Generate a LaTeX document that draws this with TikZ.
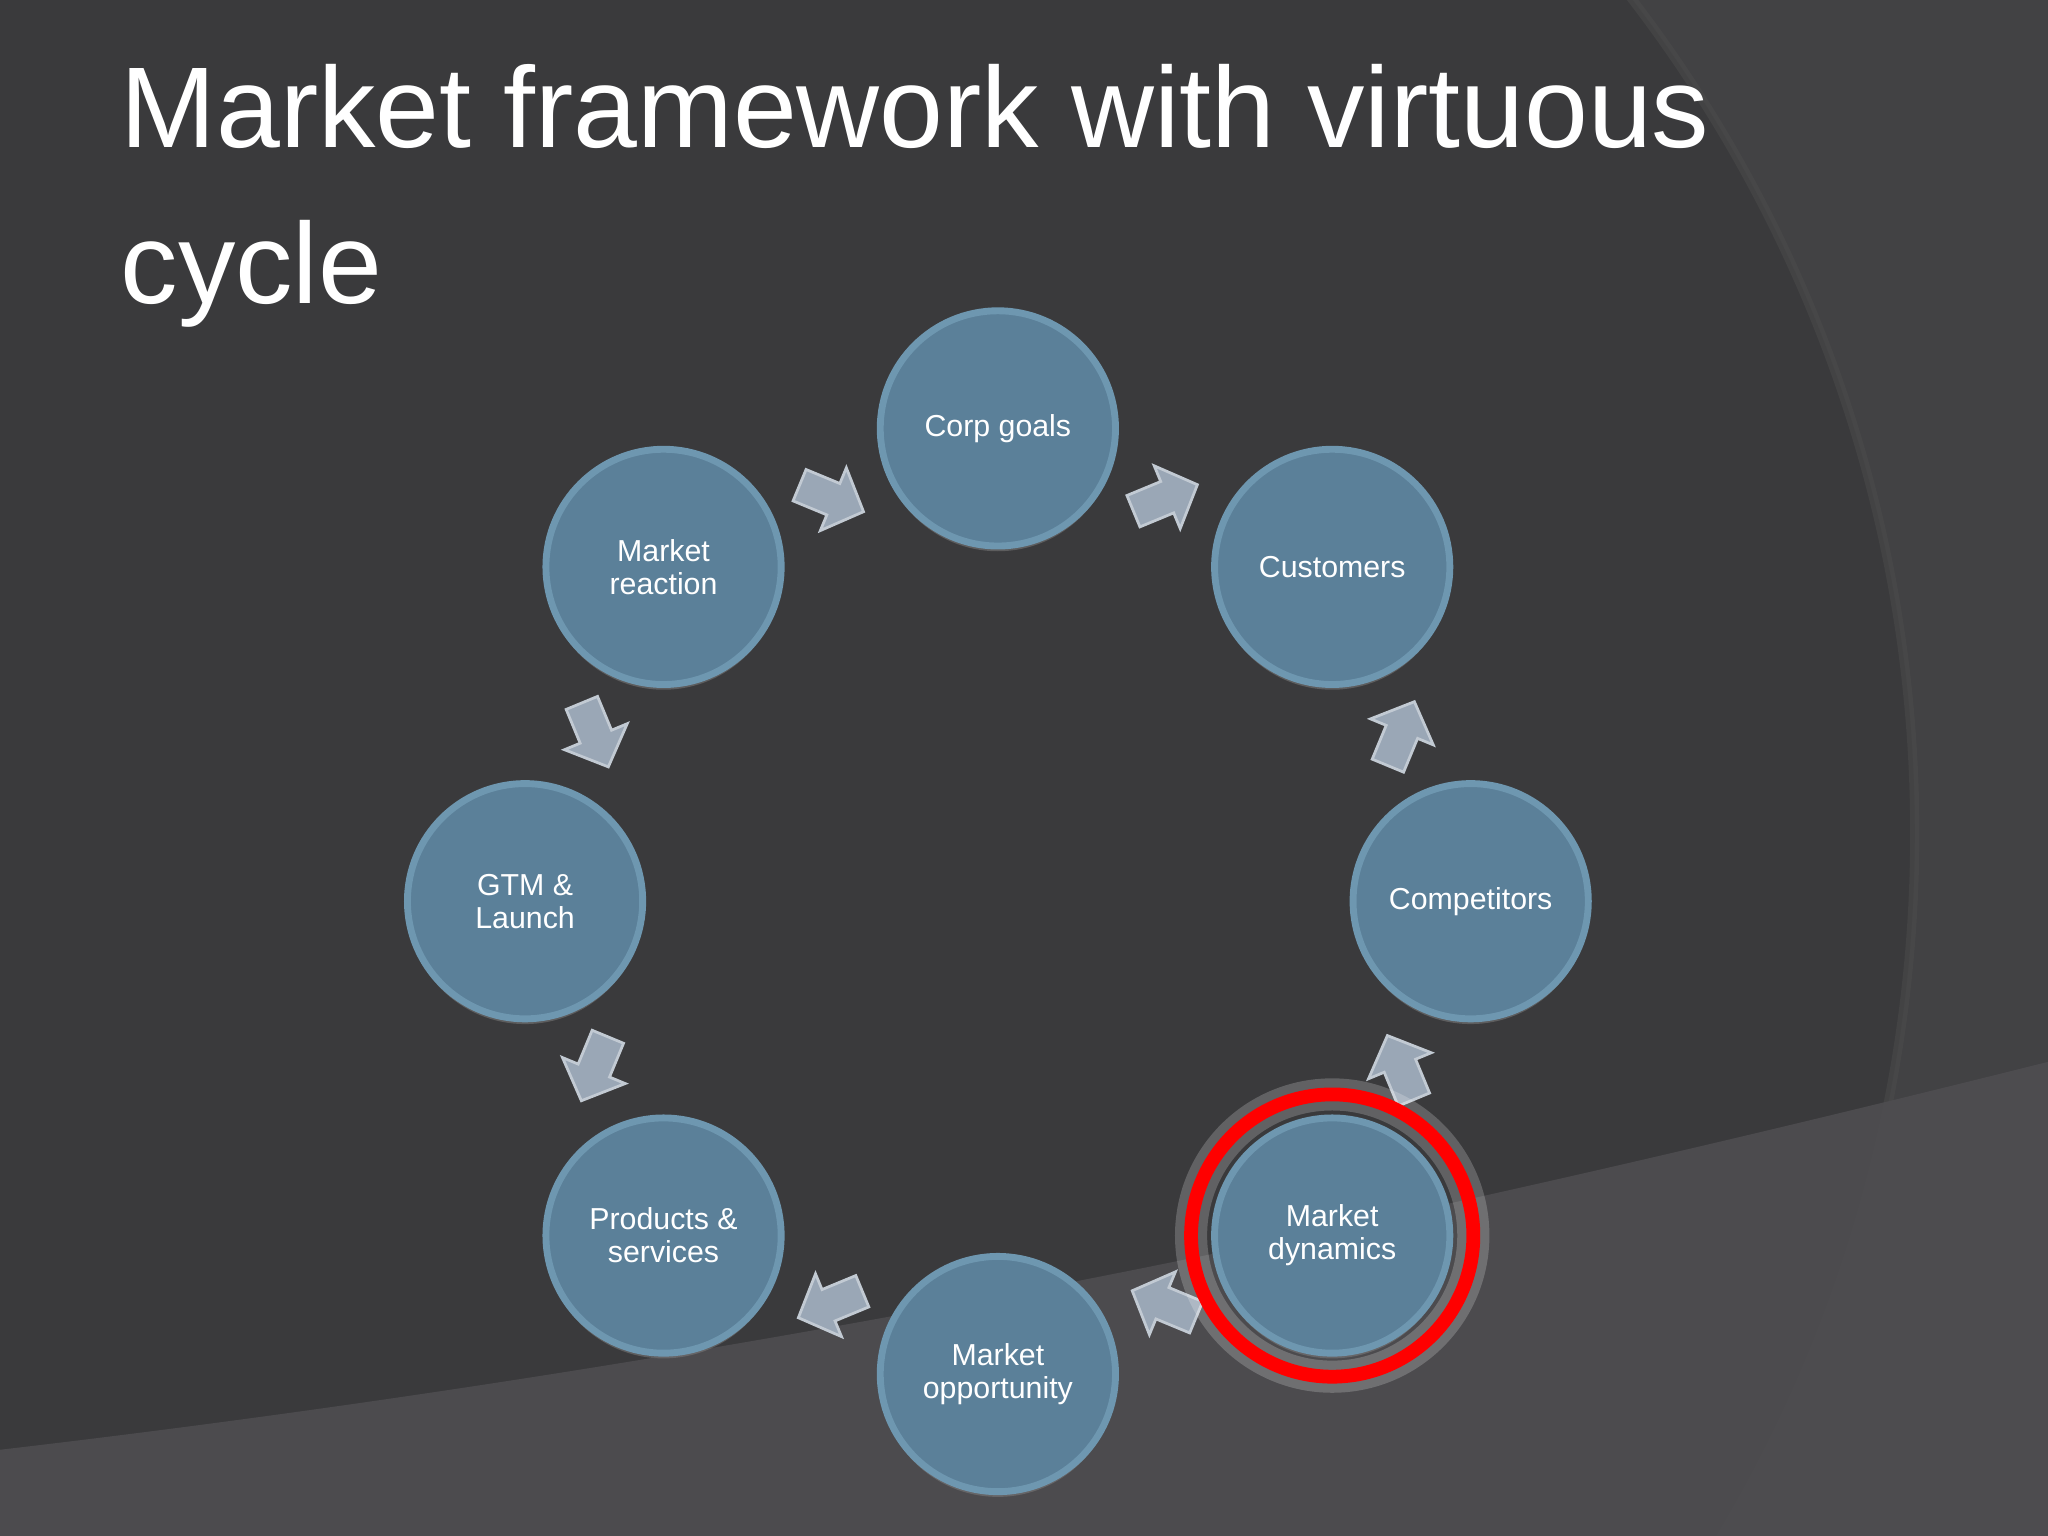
\documentclass[tikz,border=0pt]{standalone}
\usepackage{fontspec}
\setmainfont{Liberation Sans}
\usetikzlibrary{shadows}
\definecolor{bgout}{HTML}{424244}
\definecolor{bgin}{HTML}{3A3A3C}
\definecolor{band}{HTML}{4E4D50}
\definecolor{ball}{HTML}{5B8099}
\definecolor{ballrim}{HTML}{6E97B0}
\definecolor{arr}{HTML}{9AA7B6}
\tikzset{
  ballnode/.style={circle,minimum size=1.8cm,fill=ball,draw=ballrim,line width=1.5pt,
    text=white,font=\fontsize{6.6}{7.2}\selectfont,align=center,inner sep=0pt,
    drop shadow={shadow xshift=0pt,shadow yshift=-0.04cm,opacity=0.5}},
  arrshape/.style={fill=arr,draw=arr!60!white,line width=0.6pt}
}
\begin{document}
\begin{tikzpicture}[x=0.01cm,y=-0.01cm]
\useasboundingbox (0,0) rectangle (1568,1176);
\fill[bgout] (0,0) rectangle (1568,1176);
\begin{scope}
\clip (0,0) rectangle (1568,1176);
\fill[bgin] (416,638) circle (1050);
\draw[black!70,line width=2pt,opacity=0.5] (416,638) circle (1050);
\fill[band,opacity=0.92] (0,1110) .. controls (600,1040) and (1100,930) .. (1568,813) -- (1568,1176) -- (0,1176) -- cycle;
\end{scope}
\node[anchor=west,text=white,font=\fontsize{25}{34}\selectfont,align=left] (title) at (80,150)
  {Market framework with virtuous\\cycle};
\foreach \n/\a/\t in {cg/90/Corp goals,cu/45/Customers,co/0/Competitors,md/-45/Market\\dynamics,
  mo/-90/Market\\opportunity,ps/-135/Products \&\\services,gtm/180/GTM \&\\Launch,mr/135/Market\\reaction}
  \node[ballnode] (\n) at ({764+362*cos(\a)},{690-362*sin(\a)}) {\t};
\foreach \a in {67.5,22.5,-22.5,-67.5,-112.5,-157.5,157.5,112.5}
  \fill[arrshape,shift={({764+334*cos(\a)},{690-334*sin(\a)})},rotate={90-\a}]
    (-26,-13) -- (2,-13) -- (2,-26) -- (27,0) -- (2,26) -- (2,13) -- (-26,13) -- cycle;
\draw[white,line width=7pt,opacity=0.2] (md) circle (1.08cm);
\draw[red,line width=3pt] (md) circle (1.08cm);
\end{tikzpicture}
\end{document}
